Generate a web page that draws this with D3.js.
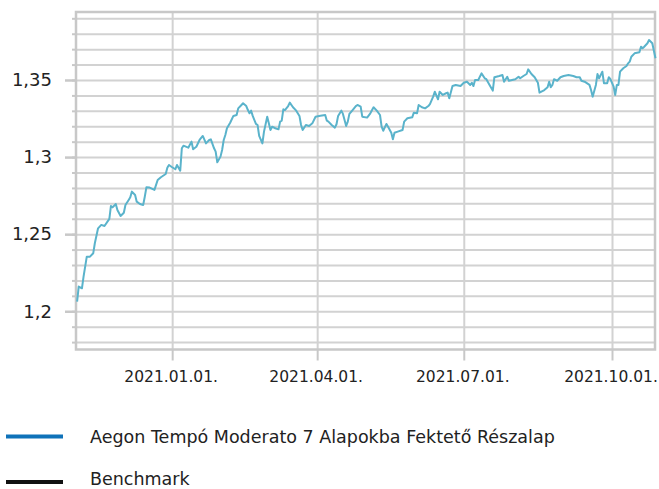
<!DOCTYPE html>
<html><head><meta charset="utf-8">
<script src="https://cdn.jsdelivr.net/npm/d3@7"></script>
<style>body{margin:0;background:#fff}svg{display:block}</style>
</head><body>
<svg id="chart" width="659" height="489"></svg>
<script>
// ---- data ----
const dates = [
"2020-11-03","2020-11-04","2020-11-06","2020-11-07","2020-11-09","2020-11-11","2020-11-13","2020-11-14","2020-11-16","2020-11-18",
"2020-11-20","2020-11-23","2020-11-24","2020-11-25","2020-11-27","2020-11-28","2020-11-30","2020-12-02","2020-12-03","2020-12-05",
"2020-12-06","2020-12-07","2020-12-09","2020-12-10","2020-12-12","2020-12-14","2020-12-15","2020-12-16","2020-12-18","2020-12-21",
"2020-12-23","2020-12-25","2020-12-28","2020-12-29","2020-12-30","2021-01-01","2021-01-03","2021-01-04","2021-01-06","2021-01-07",
"2021-01-08","2021-01-11","2021-01-13","2021-01-14","2021-01-16","2021-01-18","2021-01-20","2021-01-22","2021-01-24","2021-01-25",
"2021-01-27","2021-01-28","2021-01-29","2021-01-31","2021-02-01","2021-02-02","2021-02-03","2021-02-04","2021-02-06","2021-02-08",
"2021-02-10","2021-02-11","2021-02-13","2021-02-14","2021-02-16","2021-02-17","2021-02-18","2021-02-19","2021-02-20","2021-02-22",
"2021-02-23","2021-02-24","2021-02-26","2021-02-27","2021-03-01","2021-03-02","2021-03-03","2021-03-04","2021-03-06","2021-03-08",
"2021-03-09","2021-03-10","2021-03-11","2021-03-12","2021-03-14","2021-03-15","2021-03-17","2021-03-19","2021-03-21","2021-03-22",
"2021-03-23","2021-03-25","2021-03-27","2021-03-29","2021-03-31","2021-04-03","2021-04-06","2021-04-07","2021-04-08","2021-04-10",
"2021-04-12","2021-04-13","2021-04-14","2021-04-16","2021-04-17","2021-04-19","2021-04-20","2021-04-21","2021-04-23","2021-04-25",
"2021-04-26","2021-04-28","2021-04-29","2021-05-02","2021-05-04","2021-05-06","2021-05-08","2021-05-10","2021-05-11","2021-05-12",
"2021-05-14","2021-05-15","2021-05-17","2021-05-18","2021-05-19","2021-05-21","2021-05-24","2021-05-25","2021-05-27","2021-05-30",
"2021-05-31","2021-06-02","2021-06-03","2021-06-05","2021-06-07","2021-06-09","2021-06-10","2021-06-12","2021-06-13","2021-06-15",
"2021-06-16","2021-06-18","2021-06-20","2021-06-21","2021-06-22","2021-06-24","2021-06-26","2021-06-29","2021-07-01","2021-07-03",
"2021-07-05","2021-07-06","2021-07-07","2021-07-08","2021-07-10","2021-07-12","2021-07-14","2021-07-15","2021-07-17","2021-07-19",
"2021-07-20","2021-07-23","2021-07-25","2021-07-26","2021-07-28","2021-07-29","2021-07-31","2021-08-02","2021-08-04","2021-08-05",
"2021-08-07","2021-08-09","2021-08-10","2021-08-12","2021-08-14","2021-08-16","2021-08-17","2021-08-20","2021-08-22","2021-08-23",
"2021-08-24","2021-08-25","2021-08-26","2021-08-28","2021-08-30","2021-09-01","2021-09-04","2021-09-07","2021-09-09","2021-09-11",
"2021-09-12","2021-09-14","2021-09-17","2021-09-18","2021-09-19","2021-09-21","2021-09-22","2021-09-23","2021-09-25","2021-09-26",
"2021-09-28","2021-09-29","2021-09-30","2021-10-02","2021-10-03","2021-10-04","2021-10-05","2021-10-06","2021-10-08","2021-10-10",
"2021-10-11","2021-10-12","2021-10-13","2021-10-15","2021-10-18","2021-10-19","2021-10-20","2021-10-21","2021-10-23","2021-10-24",
"2021-10-26","2021-10-28"
];
const fundValues = [
1.2062,1.2160,1.2149,1.2224,1.2354,1.2354,1.2376,1.2441,1.2538,1.2560,
1.2553,1.2599,1.2683,1.2674,1.2696,1.2657,1.2618,1.2639,1.2689,1.2722,
1.2739,1.2776,1.2754,1.2711,1.2696,1.2689,1.2743,1.2804,1.2802,1.2787,
1.2851,1.2869,1.2890,1.2931,1.2949,1.2934,1.2921,1.2949,1.2912,1.3057,
1.3074,1.3061,1.3100,1.3051,1.3067,1.3111,1.3137,1.3089,1.3111,1.3115,
1.3057,1.3035,1.2966,1.3003,1.3046,1.3111,1.3143,1.3187,1.3223,1.3267,
1.3273,1.3316,1.3338,1.3349,1.3331,1.3305,1.3284,1.3301,1.3267,1.3215,
1.3208,1.3137,1.3089,1.3165,1.3262,1.3219,1.3176,1.3197,1.3187,1.3180,
1.3230,1.3236,1.3310,1.3305,1.3331,1.3353,1.3323,1.3301,1.3267,1.3208,
1.3176,1.3208,1.3202,1.3219,1.3262,1.3268,1.3273,1.3236,1.3230,1.3208,
1.3191,1.3213,1.3267,1.3301,1.3280,1.3202,1.3230,1.3280,1.3305,1.3331,
1.3338,1.3327,1.3262,1.3256,1.3284,1.3323,1.3301,1.3273,1.3197,1.3171,
1.3215,1.3197,1.3158,1.3115,1.3158,1.3165,1.3176,1.3230,1.3252,1.3258,
1.3288,1.3284,1.3338,1.3323,1.3316,1.3331,1.3344,1.3392,1.3424,1.3375,
1.3424,1.3403,1.3414,1.3418,1.3381,1.3461,1.3468,1.3461,1.3482,1.3489,
1.3468,1.3482,1.3461,1.3500,1.3500,1.3543,1.3511,1.3505,1.3468,1.3431,
1.3518,1.3526,1.3532,1.3489,1.3521,1.3495,1.3500,1.3505,1.3521,1.3511,
1.3526,1.3539,1.3569,1.3539,1.3518,1.3482,1.3418,1.3435,1.3453,1.3489,
1.3453,1.3468,1.3505,1.3495,1.3518,1.3526,1.3532,1.3526,1.3518,1.3518,
1.3495,1.3489,1.3468,1.3435,1.3392,1.3468,1.3539,1.3511,1.3554,1.3479,
1.3479,1.3518,1.3505,1.3457,1.3403,1.3468,1.3468,1.3554,1.3576,1.3591,
1.3608,1.3619,1.3651,1.3673,1.3680,1.3716,1.3706,1.3716,1.3738,1.3759,
1.3738,1.3641
];
const xDomain = ["2020-11-02","2021-10-28"];
const yDomain = [1.1752, 1.3941];
const xTickDates = ["2021-01-01","2021-04-01","2021-07-01","2021-10-01"];
const xTickLabels = ["2021.01.01.","2021.04.01.","2021.07.01.","2021.10.01."];
const yMajorTicks = [1.2, 1.25, 1.3, 1.35];
const yMajorLabels = ["1,2","1,25","1,3","1,35"];
const yMinorTicks = [1.18,1.19,1.20,1.21,1.22,1.23,1.24,1.25,1.26,1.27,1.28,1.29,1.30,1.31,1.32,1.33,1.34,1.35,1.36,1.37,1.38,1.39];
const seriesNames = ["Aegon Tempó Moderato 7 Alapokba Fektető Részalap","Benchmark"];
const legendColors = ["#0f72b9","#111111"];

// ---- drawing ----
const parse = d3.timeParse("%Y-%m-%d");
const FONT = "'DejaVu Sans', sans-serif";
const L = 76, R = 655, T = 12, B = 349.5;
const svg = d3.select("#chart");
const x = d3.scaleTime().domain(xDomain.map(parse)).range([75.5, 655.5]);
const y = d3.scaleLinear().domain(yDomain).range([B, T]);
const gridColor = "#d2d2d2", frameColor = "#c8c8c8";

// horizontal gridlines (minor, every 0.01)
const yGrid = svg.append("g").attr("transform", `translate(${L},0)`)
  .call(d3.axisRight(y).tickValues(yMinorTicks).tickSize(R - L).tickFormat(""));
yGrid.select(".domain").remove();
yGrid.selectAll("line").attr("stroke", gridColor).attr("stroke-width", 2);

// small left ticks
const yMinor = svg.append("g").attr("transform", `translate(${L},0)`)
  .call(d3.axisLeft(y).tickValues(yMinorTicks).tickSize(4).tickFormat(""));
yMinor.select(".domain").remove();
yMinor.selectAll("line").attr("stroke", frameColor).attr("stroke-width", 2);

// major y ticks with labels
const yMajor = svg.append("g").attr("transform", `translate(${L},0)`)
  .call(d3.axisLeft(y).tickValues(yMajorTicks).tickSize(11).tickPadding(13)
    .tickFormat((d, i) => yMajorLabels[i]));
yMajor.select(".domain").remove();
yMajor.selectAll("line").attr("stroke", frameColor).attr("stroke-width", 2.5);
yMajor.selectAll("text").attr("font-family", FONT).attr("font-size", 18).attr("fill", "#222");

// vertical gridlines and x ticks
const xTickVals = xTickDates.map(parse);
const xGrid = svg.append("g").attr("transform", `translate(0,${B})`)
  .call(d3.axisBottom(x).tickValues(xTickVals).tickSizeInner(-(B - T)).tickSizeOuter(0).tickFormat(""));
xGrid.select(".domain").remove();
xGrid.selectAll("line").attr("stroke", gridColor).attr("stroke-width", 2);

const xAxis = svg.append("g").attr("transform", `translate(0,${B})`)
  .call(d3.axisBottom(x).tickValues(xTickVals).tickSize(11).tickPadding(10)
    .tickFormat((d, i) => xTickLabels[i]));
xAxis.select(".domain").remove();
xAxis.selectAll("line").attr("stroke", frameColor).attr("stroke-width", 2);
xAxis.selectAll("text").attr("font-family", FONT).attr("font-size", 15.5).attr("fill", "#222")
  .attr("dx", -1.5);

// frame
svg.append("rect").attr("x", L).attr("y", T).attr("width", R - L).attr("height", B - T)
  .attr("fill", "none").attr("stroke", frameColor).attr("stroke-width", 2.5);

// series line
const series = dates.map((d, i) => ({date: parse(d), value: fundValues[i]}));
svg.append("path").datum(series)
  .attr("fill", "none").attr("stroke", "#5ab3cb").attr("stroke-width", 2)
  .attr("stroke-linejoin", "round")
  .attr("d", d3.line().x(d => x(d.date)).y(d => y(d.value)));

// legend
const leg = svg.append("g");
const legY = [436.5, 482];
const legTextY = [442.5, 484.5];
seriesNames.forEach((name, i) => {
  leg.append("line").attr("x1", 6).attr("x2", 63).attr("y1", legY[i]).attr("y2", legY[i])
    .attr("stroke", legendColors[i]).attr("stroke-width", 4);
  leg.append("text").attr("x", 90).attr("y", legTextY[i])
    .attr("font-family", FONT).attr("font-size", 17.5).attr("fill", "#222").text(name);
});
</script>
</body></html>
